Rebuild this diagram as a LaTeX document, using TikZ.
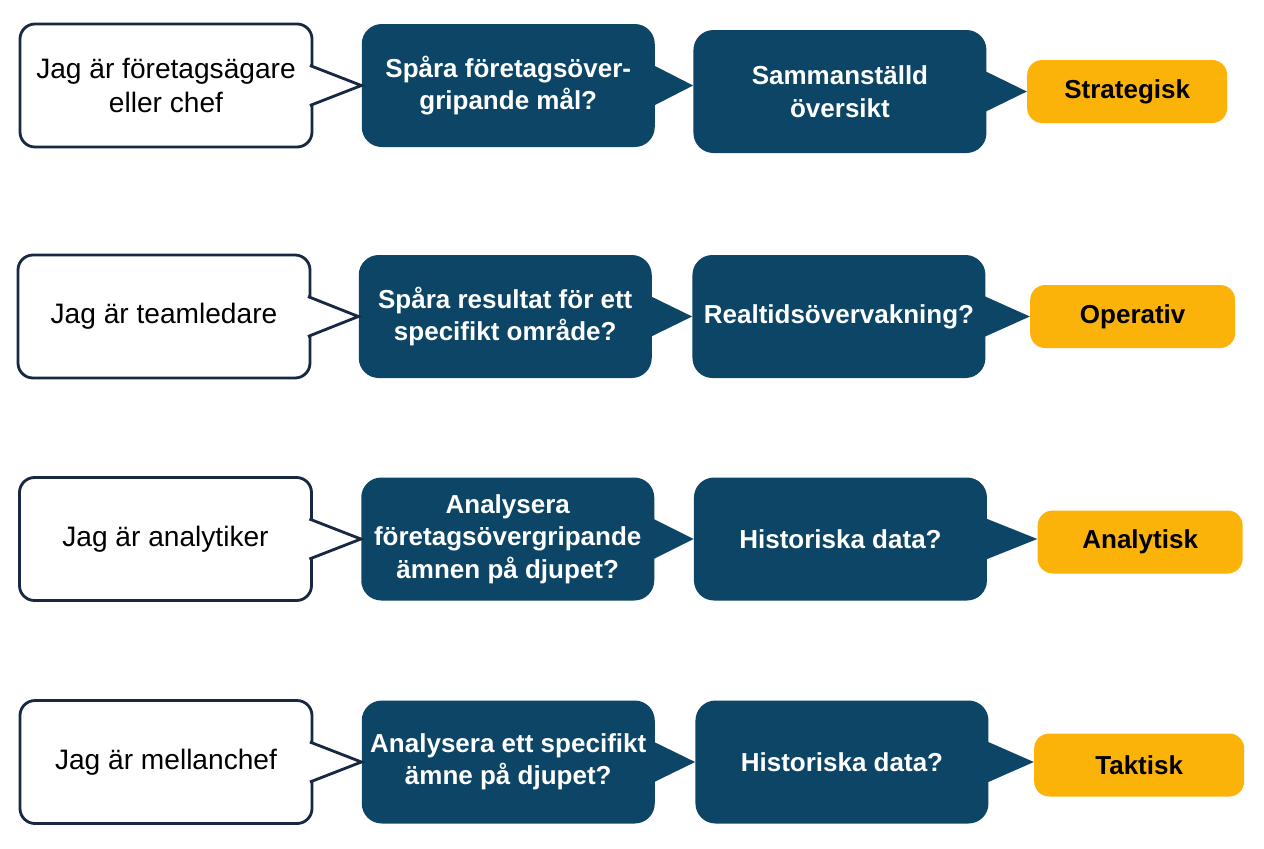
\documentclass[tikz,border=0pt]{standalone}
\usepackage{fontspec}
\setmainfont{Liberation Sans}
\usetikzlibrary{positioning, calc}

\definecolor{navy}{RGB}{12,69,101}
\definecolor{edge}{RGB}{24,40,66}
\definecolor{amber}{RGB}{251,179,10}

\begin{document}
\begin{tikzpicture}[
    role/.style={
        draw=edge,
        line width=1.6pt,
        rounded corners=0.3cm,
        fill=white,
        minimum width=5.84cm,
        minimum height=2.46cm,
        align=center,
        font=\fontsize{16}{19}\selectfont,
    },
    ask/.style={
        fill=navy,
        text=white,
        rounded corners=0.4cm,
        minimum width=5.86cm,
        minimum height=2.46cm,
        align=center,
        font=\fontsize{14.8}{18.5}\selectfont\bfseries,
    },
    level/.style={
        fill=amber,
        rounded corners=0.3cm,
        minimum width=4.1cm,
        minimum height=1.26cm,
        font=\fontsize{14.8}{18}\selectfont\bfseries,
    },
    callout/.style={
        draw=edge,
        line width=1.6pt,
        fill=white,
    },
    pointer/.style={
        fill=navy,
    },
]

    \useasboundingbox (0,0) rectangle (25.28,-16.96);

    % row 1
    \node[role] (user1) at (3.32,-1.71) {Jag är företagsägare\\eller chef};
    \node[ask, right=0.96cm of user1] (goal1) {Spåra företagsöver-\\gripande mål?};
    \node[ask, right=0.76cm of goal1, yshift=-0.12cm] (need1) {Sammanställd\\översikt};
    \node[level, right=0.8cm of need1, minimum width=4.0cm] (type1) {Strategisk};

    % row 2
    \node[role] (user2) at (3.28,-6.33) {Jag är teamledare};
    \node[ask, right=0.94cm of user2] (goal2) {Spåra resultat för ett\\specifikt område?};
    \node[ask, right=0.8cm of goal2] (need2) {Realtidsövervakning?};
    \node[level, right=0.88cm of need2] (type2) {Operativ};

    % row 3
    \node[role] (user3) at (3.31,-10.78) {Jag är analytiker};
    \node[ask, right=0.96cm of user3] (goal3) {Analysera\\företagsövergripande\\ämnen på djupet?};
    \node[ask, right=0.78cm of goal3] (need3) {Historiska data?};
    \node[level, right=1.0cm of need3, yshift=-0.06cm] (type3) {Analytisk};

    % row 4
    \node[role] (user4) at (3.32,-15.24) {Jag är mellanchef};
    \node[ask, right=0.96cm of user4] (goal4) {Analysera ett specifikt\\ämne på djupet?};
    \node[ask, right=0.8cm of goal4] (need4) {Historiska data?};
    \node[level, right=0.9cm of need4, yshift=-0.06cm, minimum width=4.2cm] (type4) {Taktisk};

    % Draw pointers
    \draw[callout] ($(user1.east)+(-0.07,0.4)$) -- (goal1.west) -- ($(user1.east)+(-0.07,-0.4)$);
    \draw[callout] ($(user2.east)+(-0.07,0.4)$) -- (goal2.west) -- ($(user2.east)+(-0.07,-0.4)$);
    \draw[callout] ($(user3.east)+(-0.07,0.4)$) -- (goal3.west) -- ($(user3.east)+(-0.07,-0.4)$);
    \draw[callout] ($(user4.east)+(-0.07,0.4)$) -- (goal4.west) -- ($(user4.east)+(-0.07,-0.4)$);

    \fill[pointer] ($(goal1.east)+(-0.1,0.44)$) -- (need1.west |- goal1.east) -- ($(goal1.east)+(-0.1,-0.44)$) -- cycle;
    \fill[pointer] ($(goal2.east)+(-0.1,0.44)$) -- (need2.west |- goal2.east) -- ($(goal2.east)+(-0.1,-0.44)$) -- cycle;
    \fill[pointer] ($(goal3.east)+(-0.1,0.44)$) -- (need3.west |- goal3.east) -- ($(goal3.east)+(-0.1,-0.44)$) -- cycle;
    \fill[pointer] ($(goal4.east)+(-0.1,0.44)$) -- (need4.west |- goal4.east) -- ($(goal4.east)+(-0.1,-0.44)$) -- cycle;

    \fill[pointer] ($(need1.east)+(-0.1,0.44)$) -- (type1.west |- need1.east) -- ($(need1.east)+(-0.1,-0.44)$) -- cycle;
    \fill[pointer] ($(need2.east)+(-0.1,0.44)$) -- (type2.west |- need2.east) -- ($(need2.east)+(-0.1,-0.44)$) -- cycle;
    \fill[pointer] ($(need3.east)+(-0.1,0.44)$) -- (type3.west |- need3.east) -- ($(need3.east)+(-0.1,-0.44)$) -- cycle;
    \fill[pointer] ($(need4.east)+(-0.1,0.44)$) -- (type4.west |- need4.east) -- ($(need4.east)+(-0.1,-0.44)$) -- cycle;

\end{tikzpicture}
\end{document}
